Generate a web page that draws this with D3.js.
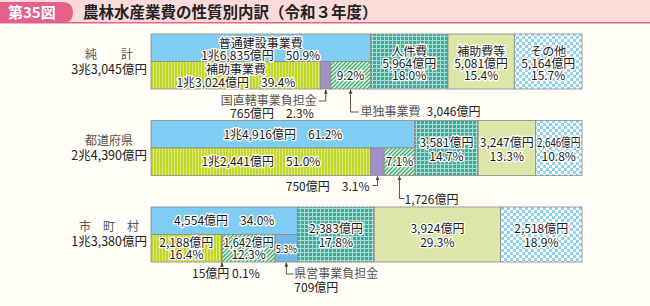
<!DOCTYPE html>
<html>
<head>
<meta charset="utf-8">
<script src="https://cdn.jsdelivr.net/npm/d3@7/dist/d3.min.js"></script>
<style>
  body { margin: 0; background: #fffdf6; }
  svg { display: block; font-family: "Noto Sans CJK JP", "Noto Sans", sans-serif; }
</style>
</head>
<body>
<div id="chart"></div>
<script>
// rows and totals
var rows = ["純計", "都道府県", "市町村"];
var rowNames = ["純　　計", "都道府県", "市　町　村"];
var totals = ["3兆3,045億円", "2兆4,390億円", "1兆3,380億円"];

// main categories (percent of each row)
var mainCats = ["普通建設事業費", "人件費", "補助費等", "その他"];
var futsuShare = [50.9, 61.2, 34.0];
var futsuAmt = ["1兆6,835億円", "1兆4,916億円", "4,554億円"];
var jinkenShare = [18.0, 14.7, 17.8];
var jinkenAmt = ["5,964億円", "3,581億円", "2,383億円"];
var hojohiShare = [15.4, 13.3, 29.3];
var hojohiAmt = ["5,081億円", "3,247億円", "3,924億円"];
var sonotaShare = [15.7, 10.8, 18.9];
var sonotaAmt = ["5,164億円", "2,646億円", "2,518億円"];

// breakdown of 普通建設事業費
var subCats = ["補助事業費", "国直轄事業負担金", "単独事業費", "県営事業負担金"];
var hojoShare = [39.4, 51.0, 16.4];
var hojoAmt = ["1兆3,024億円", "1兆2,441億円", "2,188億円"];
var chokkatsuShare = [2.3, 3.1, 0.1];
var chokkatsuAmt = ["765億円", "750億円", "15億円"];
var tandokuShare = [9.2, 7.1, 12.3];
var tandokuAmt = ["3,046億円", "1,726億円", "1,642億円"];
var keieiShare = [0, 0, 5.3];
var keieiAmt = ["", "", "709億円"];

var w = 650, h = 306;
var svg = d3.select("#chart").append("svg").attr("width", w).attr("height", h);
var defs = svg.append("defs");

// patterns
var p1 = defs.append("pattern").attr("id", "pHojo").attr("patternUnits", "userSpaceOnUse").attr("width", 3).attr("height", 4);
p1.append("rect").attr("width", 3).attr("height", 4).attr("fill", "#c3d62c");
p1.append("rect").attr("width", 1).attr("height", 4).attr("fill", "#dbe97a");

var p2 = defs.append("pattern").attr("id", "pTandoku").attr("patternUnits", "userSpaceOnUse").attr("width", 4).attr("height", 4);
p2.append("rect").attr("width", 4).attr("height", 4).attr("fill", "#e4f4e6");
p2.append("path").attr("d", "M-1,1 l2,-2 M0,4 l4,-4 M3,5 l2,-2").attr("stroke", "#3daf6a").attr("stroke-width", 1.3);

var p3 = defs.append("pattern").attr("id", "pJinken").attr("patternUnits", "userSpaceOnUse").attr("width", 4).attr("height", 4);
p3.append("rect").attr("width", 4).attr("height", 4).attr("fill", "#3eac9c");
p3.append("rect").attr("width", 1).attr("height", 4).attr("fill", "#a8dcd2");
p3.append("rect").attr("width", 4).attr("height", 1).attr("fill", "#a8dcd2");

var p4 = defs.append("pattern").attr("id", "pSonota").attr("patternUnits", "userSpaceOnUse").attr("width", 6).attr("height", 6);
p4.append("rect").attr("width", 6).attr("height", 6).attr("fill", "#ffffff");
p4.append("rect").attr("width", 3).attr("height", 3).attr("fill", "#8fd2f2");
p4.append("rect").attr("x", 3).attr("y", 3).attr("width", 3).attr("height", 3).attr("fill", "#8fd2f2");

var mainFill = ["#7fcdf2", "url(#pJinken)", "#dce6a9", "url(#pSonota)"];
var subFill = ["url(#pHojo)", "#a291c9", "url(#pTandoku)", "#72b9e6"];

// title
svg.append("rect").attr("x", 0).attr("y", 0).attr("width", w).attr("height", 22).attr("fill", "#fcdada");
svg.append("rect").attr("x", 0).attr("y", 22).attr("width", w).attr("height", 1.5).attr("fill", "#e7648c");
svg.append("path").attr("d", "M0,2 H62 Q73,2 73,12.5 Q73,23 62,23 H0 Z").attr("fill", "#e7608a");
svg.append("text").attr("x", 8).attr("y", 18).attr("fill", "#fff").attr("font-size", 15).attr("font-weight", "bold").text("第35図");
svg.append("text").attr("x", 83).attr("y", 18).attr("fill", "#222").attr("font-size", 15.5).attr("font-weight", "bold").text("農林水産業費の性質別内訳（令和３年度）");

var x = d3.scaleLinear().domain([0, 100]).range([151, 582]);
var y = d3.scaleBand().domain(rows).range([34, 262]).paddingInner(0.364);
var bw = y.bandwidth();

// build segment tables
var mainShares = [futsuShare, jinkenShare, hojohiShare, sonotaShare];
var mainAmts = [futsuAmt, jinkenAmt, hojohiAmt, sonotaAmt];
var subShares = [hojoShare, chokkatsuShare, tandokuShare, keieiShare];
var subAmts = [hojoAmt, chokkatsuAmt, tandokuAmt, keieiAmt];

var mainSegs = [], subSegs = [];
rows.forEach(function(r, i) {
  var c = 0;
  mainCats.forEach(function(k, j) {
    mainSegs.push({row: r, i: i, j: j, x0: c, x1: c + mainShares[j][i], v: mainShares[j][i], amt: mainAmts[j][i]});
    c += mainShares[j][i];
  });
  c = 0;
  subCats.forEach(function(k, j) {
    var v = subShares[j][i];
    if (v > 0) subSegs.push({row: r, i: i, j: j, x0: c, x1: Math.min(c + v, futsuShare[i]), v: v, amt: subAmts[j][i]});
    c += v;
  });
});

// main bars (普通建設 only top half)
svg.selectAll("rect.main").data(mainSegs).enter().append("rect")
  .attr("class", "main")
  .attr("x", function(d) { return x(d.x0); })
  .attr("y", function(d) { return y(d.row); })
  .attr("width", function(d) { return x(d.x1) - x(d.x0); })
  .attr("height", function(d) { return d.j == 0 ? bw / 2 : bw; })
  .attr("fill", function(d) { return mainFill[d.j]; })
  .attr("stroke", "#8a8a8a").attr("stroke-width", 0.8);

svg.selectAll("rect.sub").data(subSegs).enter().append("rect")
  .attr("class", "sub")
  .attr("x", function(d) { return x(d.x0); })
  .attr("y", function(d) { return y(d.row) + bw / 2; })
  .attr("width", function(d) { return x(d.x1) - x(d.x0); })
  .attr("height", bw / 2)
  .attr("fill", function(d) { return subFill[d.j]; })
  .attr("stroke", "#8a8a8a").attr("stroke-width", 0.8);

function label(g, cx, cy, txt, maxW, size) {
  var t = g.append("text").attr("x", cx).attr("y", cy).attr("text-anchor", "middle")
    .attr("font-size", size || 12).attr("fill", "#1a1a1a")
    .attr("stroke", "#fff").attr("stroke-width", 2.6).attr("stroke-linejoin", "round")
    .attr("paint-order", "stroke").text(txt);
  var len = t.node().getComputedTextLength();
  if (maxW && len > maxW) t.attr("textLength", maxW).attr("lengthAdjust", "spacingAndGlyphs");
  return t;
}

var g = svg.append("g");

// texts inside main bars
mainSegs.forEach(function(d) {
  var cx = (x(d.x0) + x(d.x1)) / 2, top = y(d.row), mw = x(d.x1) - x(d.x0) - 3;
  var mid = top + bw / 2;
  if (d.j == 0) {
    if (d.i == 0) {
      label(g, cx, top + 13.5, mainCats[0]);
      label(g, cx, top + 25.5, d.amt + "\u3000" + d.v.toFixed(1) + "%");
    } else {
      label(g, cx, top + bw / 4 + 4.5, d.amt + "\u3000" + d.v.toFixed(1) + "%");
    }
  } else if (d.i == 0) {
    label(g, cx, mid - 6, mainCats[d.j], mw);
    label(g, cx, mid + 6, d.amt, mw);
    label(g, cx, mid + 18, d.v.toFixed(1) + "%", mw);
  } else {
    label(g, cx, mid - 1, d.amt, mw);
    label(g, cx, mid + 13, d.v.toFixed(1) + "%", mw);
  }
});

// texts inside sub bars
subSegs.forEach(function(d) {
  var cx = (x(d.x0) + x(d.x1)) / 2, top = y(d.row) + bw / 2, mw = x(d.x1) - x(d.x0) - 3;
  if (d.j == 0) {
    if (d.i == 0) {
      label(g, cx, top + 12.5, subCats[0]);
      label(g, cx, top + 25, d.amt + "\u3000" + d.v.toFixed(1) + "%");
    } else if (d.i == 1) {
      label(g, cx, top + bw / 4 + 4.5, d.amt + "\u3000" + d.v.toFixed(1) + "%");
    } else {
      label(g, cx, top + 12.5, d.amt, mw);
      label(g, cx, top + 24.5, d.v.toFixed(1) + "%", mw);
    }
  } else if (d.j == 2) {
    if (d.i == 2) {
      label(g, cx, top + 12.5, d.amt, mw);
      label(g, cx, top + 24.5, d.v.toFixed(1) + "%", mw);
    } else {
      label(g, cx, top + bw / 4 + 4.5, d.v.toFixed(1) + "%", mw);
    }
  } else if (d.j == 3) {
    label(g, cx, top + bw / 4 + 4.5, d.v.toFixed(1) + "%", mw + 2, 11);
  }
});

// row labels
rows.forEach(function(r, i) {
  var mid = y(r) + bw / 2;
  svg.append("text").attr("x", 109).attr("y", mid - 3).attr("text-anchor", "middle")
    .attr("font-size", 12).attr("fill", "#555").text(rowNames[i]);
  svg.append("text").attr("x", 147).attr("y", mid + 12).attr("text-anchor", "end")
    .attr("font-size", 12.5).attr("fill", "#222").text(totals[i]);
});

// callouts
defs.append("marker").attr("id", "arr").attr("viewBox", "0 0 6 6").attr("refX", 5).attr("refY", 3)
  .attr("markerWidth", 5).attr("markerHeight", 5).attr("orient", "auto")
  .append("path").attr("d", "M0,0.5 L6,3 L0,5.5 Z").attr("fill", "#444");

function segX(i, j) {
  var s = subSegs.filter(function(d) { return d.i == i && d.j == j; })[0];
  return (x(s.x0) + x(s.x1)) / 2;
}
function barBottom(i) { return y(rows[i]) + bw + 1; }
function leader(pts) {
  svg.append("path").attr("d", d3.line()(pts)).attr("fill", "none")
    .attr("stroke", "#444").attr("stroke-width", 0.9).attr("marker-end", "url(#arr)");
}
function note(tx, ty, txt, anchor, col) {
  svg.append("text").attr("x", tx).attr("y", ty).attr("text-anchor", anchor || "start")
    .attr("font-size", 12).attr("fill", col || "#222").text(txt);
}

// row 1
var cx = segX(0, 1), bb = barBottom(0);
leader([[cx - 7, bb + 11], [cx, bb + 11], [cx, bb]]);
note(cx - 9, bb + 15, subCats[1], "end", "#555");
note(cx - 12, bb + 28, chokkatsuAmt[0] + "\u3000" + chokkatsuShare[0].toFixed(1) + "%", "end");
cx = segX(0, 2);
leader([[cx + 8, bb + 22], [cx, bb + 22], [cx, bb]]);
note(cx + 10, bb + 26, subCats[2], "start", "#555");
svg.append("text").attr("x", cx + 76).attr("y", bb + 26).attr("font-size", 12).attr("fill", "#222").text(tandokuAmt[0]);

// row 2
cx = segX(1, 1); bb = barBottom(1);
leader([[cx - 5, bb + 9], [cx, bb + 9], [cx, bb]]);
note(cx - 8, bb + 14, chokkatsuAmt[1] + "\u3000" + chokkatsuShare[1].toFixed(1) + "%", "end");
cx = segX(1, 2);
leader([[cx + 5, bb + 22], [cx, bb + 22], [cx, bb]]);
note(cx + 5, bb + 27, tandokuAmt[1]);

// row 3
cx = x(hojoShare[2] + chokkatsuShare[2] / 2); bb = barBottom(2);
leader([[cx, bb + 4], [cx, bb]]);
note(cx + 4, bb + 15, chokkatsuAmt[2] + " " + chokkatsuShare[2].toFixed(1) + "%", "middle");
cx = segX(2, 3);
leader([[cx + 7, bb + 11], [cx, bb + 11], [cx, bb]]);
note(cx + 8, bb + 15, subCats[3], "start", "#555");
note(cx + 8, bb + 29, keieiAmt[2]);
</script>
</body>
</html>
